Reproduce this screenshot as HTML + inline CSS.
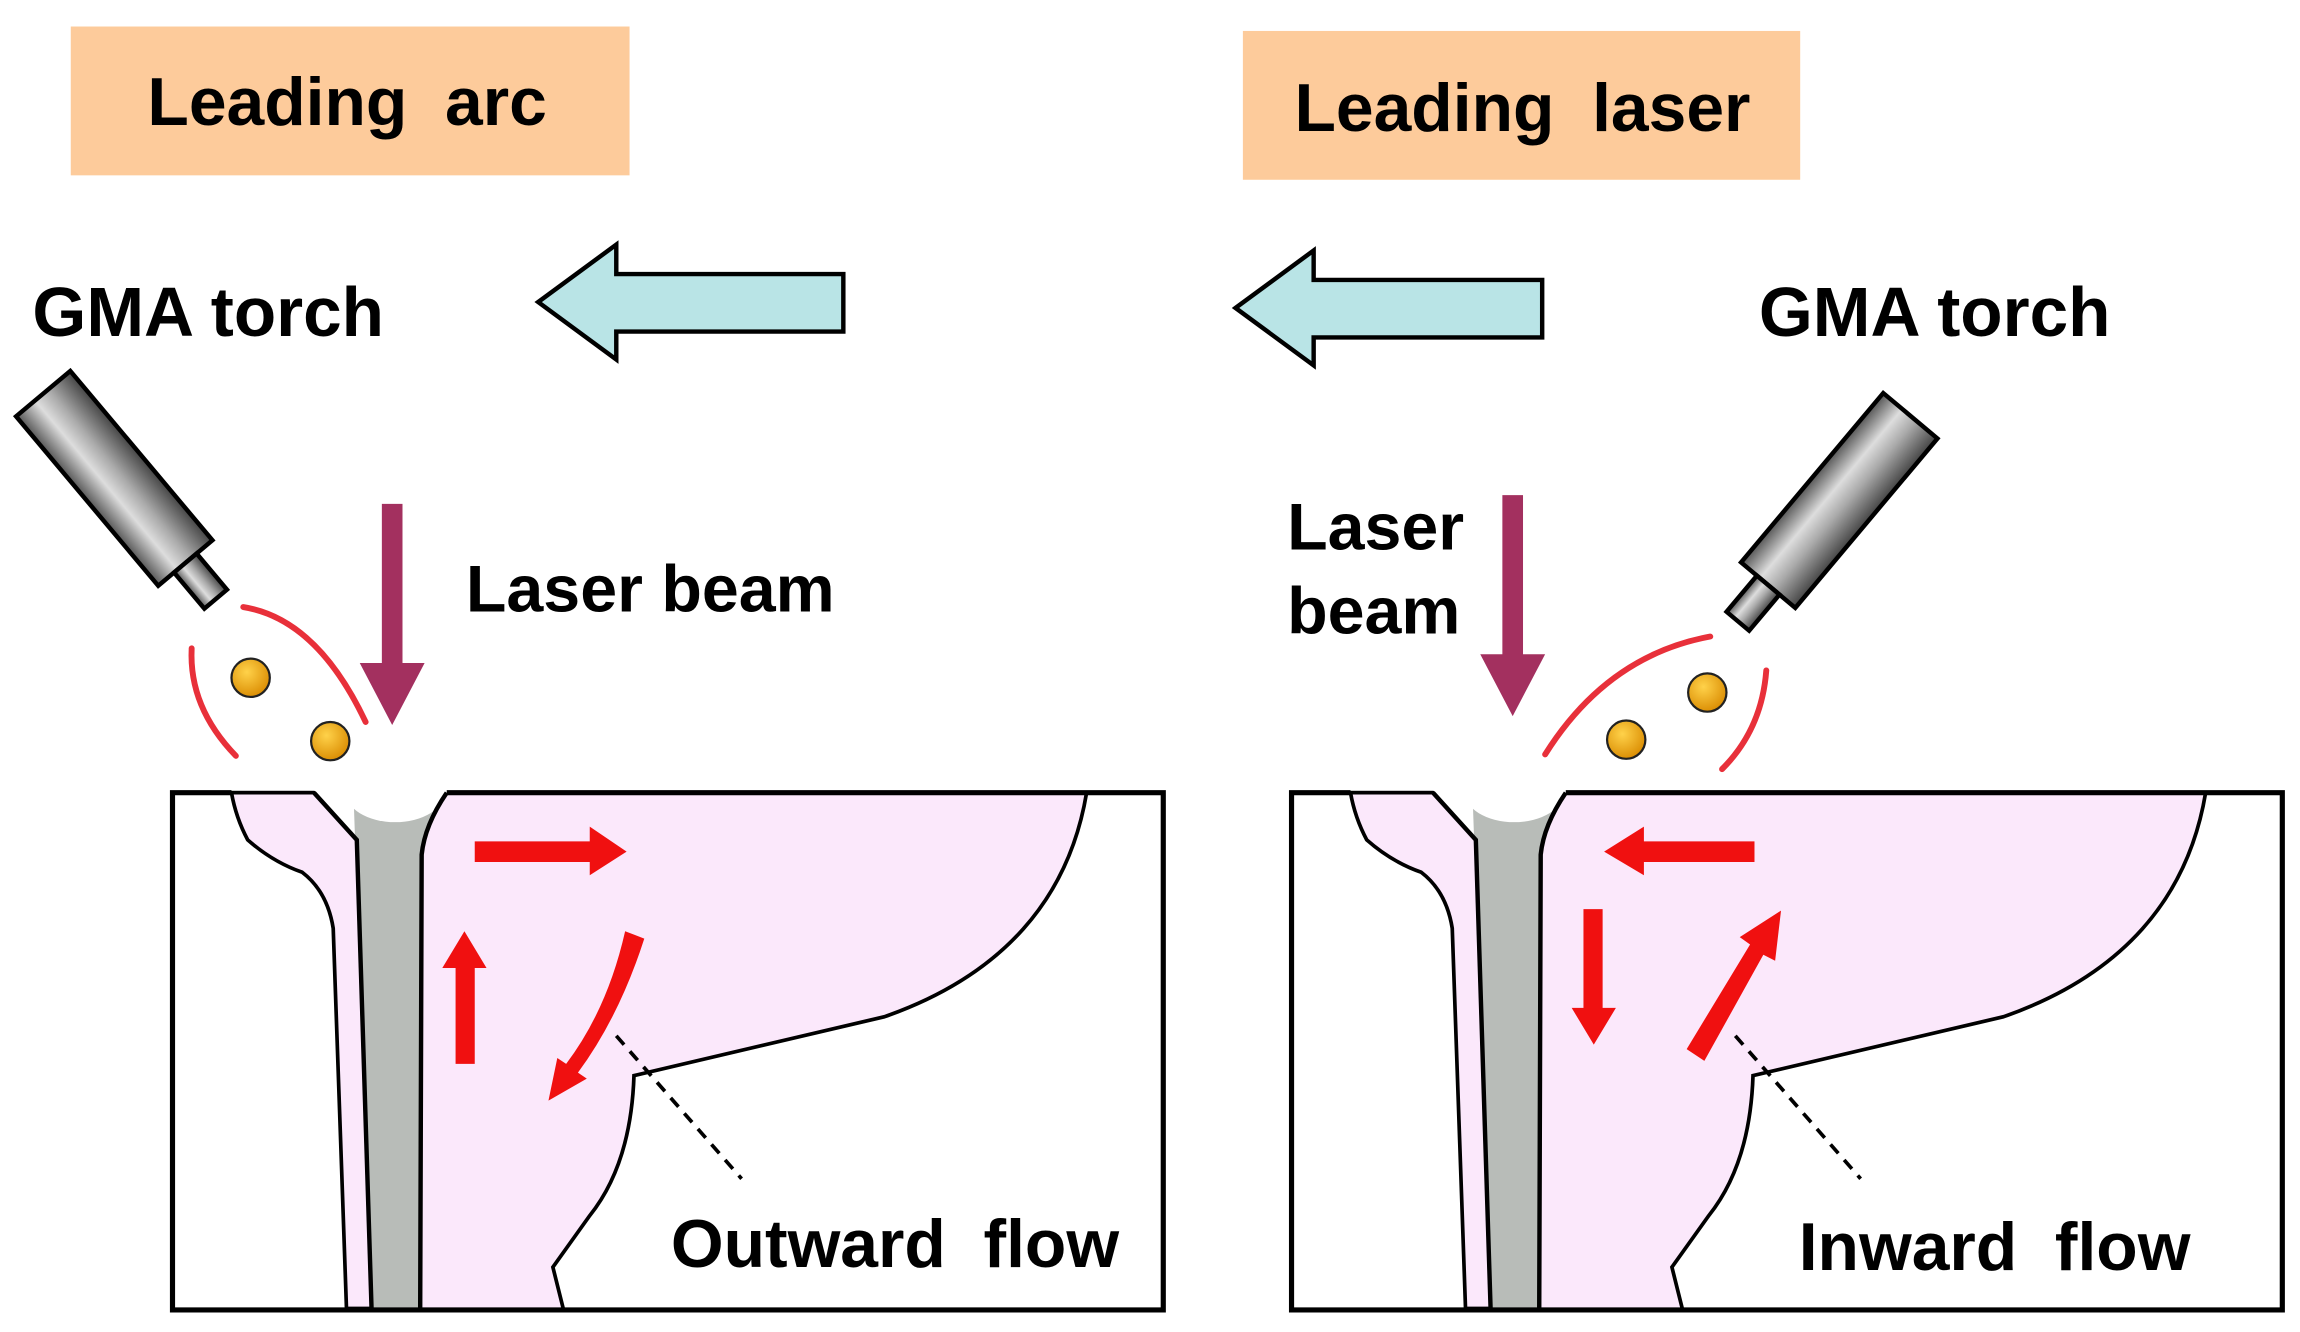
<!DOCTYPE html>
<html><head><meta charset="utf-8"><style>
html,body{margin:0;padding:0;background:#fff;}
svg{display:block;}
text{font-family:"Liberation Sans",sans-serif;font-weight:bold;fill:#000;}
</style></head><body>
<svg width="2300" height="1332" viewBox="0 0 1560 904" preserveAspectRatio="none" xmlns="http://www.w3.org/2000/svg">
<defs>
<linearGradient id="cyl" x1="0" y1="0" x2="1" y2="0">
<stop offset="0" stop-color="#555"/><stop offset="0.35" stop-color="#ddd"/><stop offset="0.6" stop-color="#aaa"/><stop offset="1" stop-color="#444"/>
</linearGradient>
<radialGradient id="ball" cx="0.4" cy="0.35" r="0.7"><stop offset="0" stop-color="#ffd24a"/><stop offset="1" stop-color="#d98a00"/></radialGradient>
</defs>

<rect x="48" y="18" width="379" height="101" fill="#fdcb9b"/>
<rect x="843" y="21" width="378" height="101" fill="#fdcb9b"/>
<text x="100" y="85" font-size="46">Leading&#160;&#160;arc</text>
<text x="878" y="89" font-size="46">Leading&#160;&#160;laser</text>

<path d="M365,205 L418,166 L418,186 L572,186 L572,225 L418,225 L418,244 Z" fill="#b9e4e6" stroke="#000" stroke-width="3"/>
<path d="M838,209 L891,170 L891,190 L1046,190 L1046,229 L891,229 L891,248 Z" fill="#b9e4e6" stroke="#000" stroke-width="3"/>

<text x="22" y="228" font-size="47">GMA torch</text>
<text x="1193" y="228" font-size="47">GMA torch</text>
<text x="316" y="415" font-size="45">Laser beam</text>
<text x="873" y="373" font-size="45">Laser</text>
<text x="873" y="430" font-size="45">beam</text>

<g transform="translate(82,330) rotate(-40)">
<rect x="-24" y="-82" width="48" height="150" fill="url(#cyl)" stroke="#000" stroke-width="3"/>
<rect x="-10" y="68" width="20" height="32" fill="url(#cyl)" stroke="#000" stroke-width="3"/>
</g>
<g transform="translate(1243,345) rotate(40)">
<rect x="-24" y="-82" width="48" height="150" fill="url(#cyl)" stroke="#000" stroke-width="3"/>
<rect x="-10" y="68" width="20" height="32" fill="url(#cyl)" stroke="#000" stroke-width="3"/>
</g>

<g fill="none" stroke="#e8303a" stroke-width="4" stroke-linecap="round">
<path d="M130,440 Q128,480 160,513"/>
<path d="M165,412 Q215,420 248,490"/>
<path d="M1048,512 Q1090,445 1160,432"/>
<path d="M1198,455 Q1195,495 1168,522"/>
</g>
<circle cx="170" cy="460" r="13" fill="url(#ball)" stroke="#222" stroke-width="1.5"/>
<circle cx="224" cy="503" r="13" fill="url(#ball)" stroke="#222" stroke-width="1.5"/>
<circle cx="1103" cy="502" r="13" fill="url(#ball)" stroke="#222" stroke-width="1.5"/>
<circle cx="1158" cy="470" r="13" fill="url(#ball)" stroke="#222" stroke-width="1.5"/>

<path d="M259,342 L273,342 L273,450 L288,450 L266,492 L244,450 L259,450 Z" fill="#a3305f"/>
<path d="M1019,336 L1033,336 L1033,444 L1048,444 L1026,486 L1004,444 L1019,444 Z" fill="#a3305f"/>

<g id="sec">
<rect x="117" y="538" width="672" height="351" fill="#fff"/>
<path d="M157,538 L213,538 L242,570 L252,888 L235,888 L226,630 Q222,605 205,592 Q185,585 168,570 Q160,555 157,538 Z" fill="#fbe8fb" stroke="#000" stroke-width="2.5"/>
<path d="M240,546 L298,546 L285,888 L252,888 Z" fill="#b8bcb8"/>
<path d="M303,538 L737,538 C725,610 680,662 600,690 L430,730 Q428,790 400,825 L375,860 L382,888 L285,888 L286,580 Q288,560 303,538 Z" fill="#fbe8fb"/>
<path d="M737,538 C725,610 680,662 600,690 L430,730 Q428,790 400,825 L375,860 L382,888" fill="none" stroke="#000" stroke-width="2.5"/>
<path d="M157,538 L117,538 L117,889 L789,889 L789,538 L737,538 M303,538 L737,538" fill="none" stroke="#000" stroke-width="3.5"/>
<path d="M157,538 L213,538" fill="none" stroke="#000" stroke-width="2.5"/>
<ellipse cx="268" cy="537" rx="34" ry="21" fill="#fff"/>
<path d="M213,538 L242,570 L252,888" fill="none" stroke="#000" stroke-width="3"/>
<path d="M303,538 Q288,560 286,580 L285,888" fill="none" stroke="#000" stroke-width="3"/>
<line x1="418" y1="703" x2="503" y2="800" stroke="#000" stroke-width="2.5" stroke-dasharray="8,6"/>
</g>
<use href="#sec" transform="translate(759,0)"/>

<text x="455" y="860" font-size="46">Outward&#160;&#160;flow</text>
<text x="1220" y="862" font-size="46">Inward&#160;&#160;flow</text>

<g fill="#f01010">
<path d="M322,571 L400,571 L400,561 L425,578 L400,594 L400,585 L322,585 Z"/>
<path d="M309,722 L322,722 L322,657 L330,657 L315,632 L300,657 L309,657 Z"/>
<path d="M424,632 L437,637 Q420,690 392,728 L398,732 L372,747 L378,718 L384,722 Q412,685 424,632 Z"/>
<path d="M1190,571 L1115,571 L1115,561 L1088,578 L1115,594 L1115,585 L1190,585 Z"/>
<path d="M1074,617 L1087,617 L1087,684 L1096,684 L1081,709 L1066,684 L1074,684 Z"/>
<path d="M1144,712 L1156,720 L1196,648 L1204,652 L1208,618 L1180,636 L1187,641 Z"/>
</g>
</svg>
</body></html>
